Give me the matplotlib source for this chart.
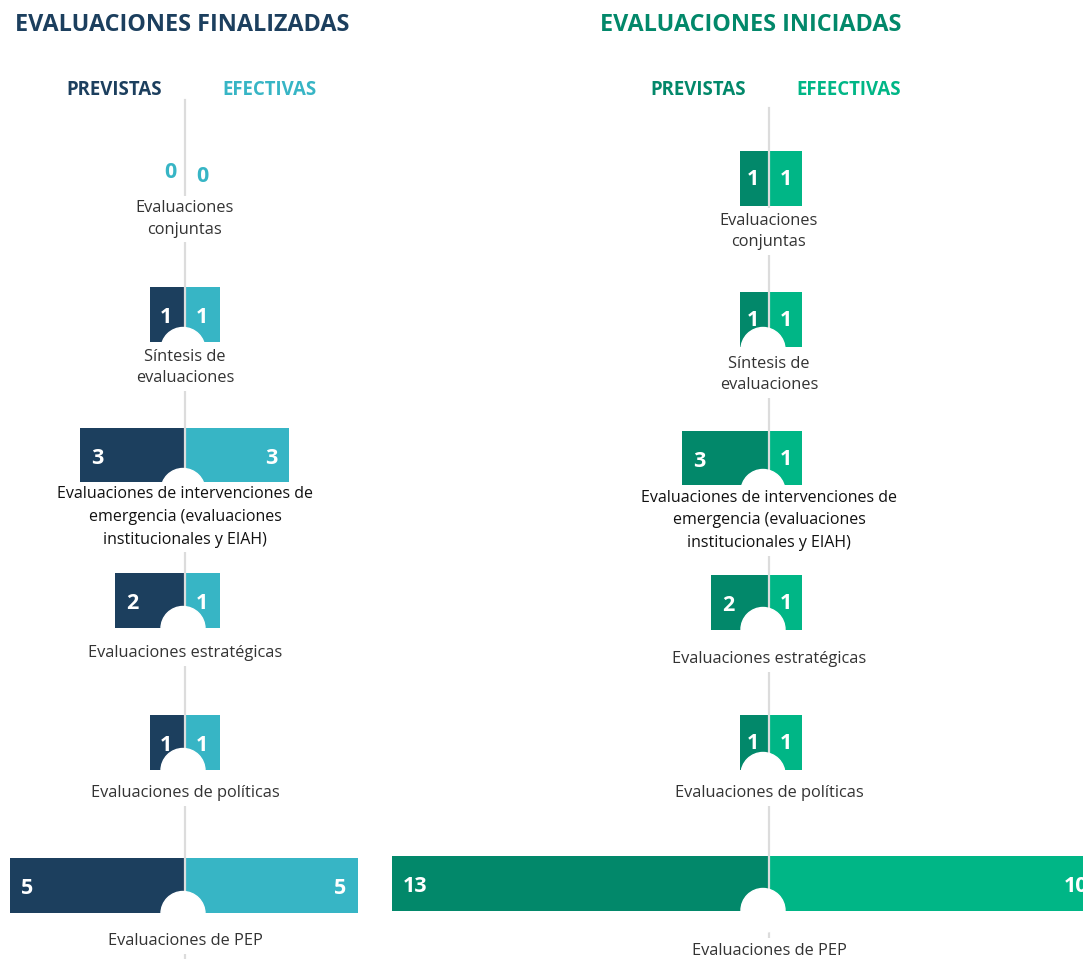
import matplotlib.pyplot as plt
from matplotlib.patches import Circle

plt.rcParams['font.family'] = ['Open Sans', 'DejaVu Sans']

# datos
categorias = ["Evaluaciones\nconjuntas",
              "Síntesis de\nevaluaciones",
              "Evaluaciones de intervenciones de\nemergencia (evaluaciones\ninstitucionales y EIAH)",
              "Evaluaciones estratégicas",
              "Evaluaciones de políticas",
              "Evaluaciones de PEP"]
fin_previstas = [0, 1, 3, 2, 1, 5]
fin_efectivas = [0, 1, 3, 1, 1, 5]
ini_previstas = [1, 1, 3, 2, 1, 13]
ini_efectivas = [1, 1, 1, 1, 1, 10]

# colores
azul = "#1c3f5e"
turquesa = "#37b5c5"
verde = "#02886a"
verde_claro = "#00b686"
gris = "#dcdcdc"

W, H = 1083, 959
fig = plt.figure(figsize=(W / 100, H / 100), dpi=100)

# posiciones verticales (en pixeles) de cada fila y de cada etiqueta
filas_fin = [172, 314, 455, 600, 742, 885]
filas_ini = [178, 319, 458, 602, 742, 883]
etiq_fin = [219, 367.5, 517, 653, 793, 941]
etiq_ini = [231.5, 374.5, 520.5, 659, 793, 951]
# profundidad del semicirculo blanco bajo cada barra (0 = sin circulo)
hueco_fin = [0, 14, 14, 21, 21, 21]
hueco_ini = [0, 19, 16, 22, 17, 22]
alto_barra = 55


def lado(x0, x1, unidad, valores, filas, color, izquierda, color_cero, dy_estrecha):
    ax = fig.add_axes([x0 / W, 0, (x1 - x0) / W, 1])
    ancho = (x1 - x0) / unidad
    ax.set_xlim((ancho, 0) if izquierda else (0, ancho))
    ax.set_ylim(H, 0)
    ax.axis('off')
    ax.barh(filas, valores, height=alto_barra, color=color, linewidth=0)
    for v, y in zip(valores, filas):
        if v == 0:
            pos = 0
            dx = -6 if izquierda else 8
            ha = 'right' if izquierda else 'left'
            col = color_cero
            dy = 0 if izquierda else -3
        elif v * unidad < 40:
            # barra estrecha: etiqueta centrada
            pos = v / 2
            dx = -1.5 if izquierda else 0
            ha = 'center'
            col = 'white'
            dy = dy_estrecha
        else:
            pos = v
            dx = 8 if izquierda else -8
            ha = 'left' if izquierda else 'right'
            col = 'white'
            dy = -2.5
        ax.annotate(str(v), (pos, y), xytext=(dx, dy), textcoords='offset points',
                    ha=ha, va='center', color=col, fontsize=15.5, fontweight='bold',
                    annotation_clip=False)


lado(0, 185, 35, fin_previstas, filas_fin, azul, True, turquesa, -2.5)
lado(185, 380, 34.5, fin_efectivas, filas_fin, turquesa, False, turquesa, -2.5)
lado(380, 769, 29, ini_previstas, filas_ini, verde, True, verde, -1)
lado(769, W, 33, ini_efectivas, filas_ini, verde_claro, False, verde_claro, -1)

# capa superior: linea central, circulos y textos
top = fig.add_axes([0, 0, 1, 1])
top.set_xlim(0, W)
top.set_ylim(H, 0)
top.axis('off')
top.patch.set_visible(False)

r = 22
paneles = [(185, 183, 100, filas_fin, etiq_fin, hueco_fin),
           (769, 763, 108, filas_ini, etiq_ini, hueco_ini)]
for cx, cx_circ, y0, filas, etiq, huecos in paneles:
    top.plot([cx, cx], [y0, H], color=gris, lw=1.6, zorder=1)
    for i, (y, ye, h) in enumerate(zip(filas, etiq, huecos)):
        if h > 0:
            fondo = y + alto_barra / 2
            top.add_patch(Circle((cx_circ, fondo + r - h), r, color='white', zorder=2))
        if i == 2:
            col, fs, ls = '#111111', 11.5, 1.55
        else:
            col, fs, ls = '#333333', 11.8, 1.42
        top.text(cx, ye, categorias[i], ha='center', va='center', fontsize=fs,
                 color=col, linespacing=ls, zorder=3,
                 bbox=dict(boxstyle='square,pad=0.3', fc='white', ec='none'))

# titulos y encabezados
fig.text(15 / W, 1 - 25 / H, "EVALUACIONES FINALIZADAS", color=azul, fontsize=16.8,
         fontweight='bold', ha='left', va='center')
fig.text(600 / W, 1 - 25 / H, "EVALUACIONES INICIADAS", color=verde, fontsize=16.8,
         fontweight='bold', ha='left', va='center')
fig.text(114 / W, 1 - 90 / H, "PREVISTAS", color=azul, fontsize=13.4,
         fontweight='bold', ha='center', va='center')
fig.text(270 / W, 1 - 90 / H, "EFECTIVAS", color=turquesa, fontsize=13.4,
         fontweight='bold', ha='center', va='center')
fig.text(698 / W, 1 - 90 / H, "PREVISTAS", color=verde, fontsize=13.4,
         fontweight='bold', ha='center', va='center')
fig.text(849 / W, 1 - 90 / H, "EFEECTIVAS", color=verde_claro, fontsize=13.4,
         fontweight='bold', ha='center', va='center')

fig.savefig('out.png', dpi=100)
